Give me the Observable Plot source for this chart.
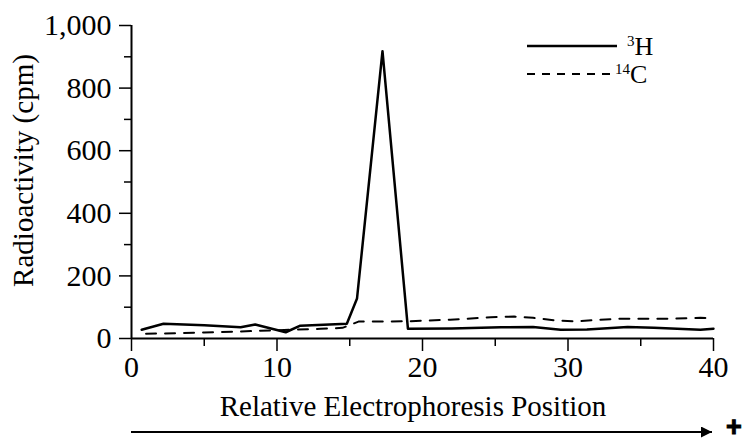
<!DOCTYPE html>
<html><head><meta charset="utf-8">
<script src="https://cdn.jsdelivr.net/npm/d3@7"></script>
<script src="https://cdn.jsdelivr.net/npm/@observablehq/plot@0.6"></script>
<style>body{margin:0;background:#fff}</style>
</head><body><div id="chart"></div>
<script>
// 3H series
const h3X = [0.7, 2.2, 5.0, 7.5, 8.5, 10.6, 11.6, 14.8, 15.5, 17.25, 19.0, 22.0, 25.4, 27.6, 29.5, 31.3, 34.1, 35.9, 39.1, 40];
const h3Y = [28, 47, 42, 36, 45, 20, 41, 47, 128, 918, 31, 32, 36, 37, 28, 29, 37, 34, 28, 31];
// 14C series
const c14X = [1.0, 5.0, 8.5, 11.0, 13.0, 14.5, 15.6, 18.9, 21.9, 24.7, 26.3, 27.6, 29.3, 30.6, 32.2, 33.6, 36.8, 39.1, 40];
const c14Y = [15, 19, 24, 28, 31, 34, 54, 55, 60, 68, 70, 66, 57, 55, 60, 63, 63, 66, 65];

const yTicks = [0, 200, 400, 600, 800, 1000];
const yMinor = [100, 300, 500, 700, 900];
const xTicks = [0, 10, 20, 30, 40];
const xMinor = [5, 15, 25, 35];
const xLabel = "Relative Electrophoresis Position";
const yLabel = "Radioactivity (cpm)";
const legendIso = ["3", "14"];
const legendEl = ["H", "C"];
const legendDash = [null, "8,7"];

const h3 = h3X.map((x, i) => ({x, y: h3Y[i]}));
const c14 = c14X.map((x, i) => ({x, y: c14Y[i]}));

const font = "'Liberation Serif', 'Times New Roman', serif";

const plot = Plot.plot({
  width: 747, height: 443,
  marginLeft: 131, marginRight: 34, marginTop: 25, marginBottom: 105,
  x: {domain: [0, 40]},
  y: {domain: [0, 1000]},
  style: {fontFamily: font, fontSize: "30px", color: "#000", background: "#fff", overflow: "visible"},
  marks: [
    Plot.axisY({ticks: yTicks, tickSize: 12, tickPadding: 8, tickFormat: d3.format(","), label: null, strokeWidth: 1.5}),
    Plot.axisY({ticks: yMinor, tickSize: 7, tickFormat: () => "", label: null, strokeWidth: 1.5}),
    Plot.axisX({ticks: xTicks, tickSize: 13, tickPadding: 4, label: null, strokeWidth: 1.5}),
    Plot.axisX({ticks: xMinor, tickSize: 8, tickFormat: () => "", label: null, strokeWidth: 1.5}),
    Plot.ruleX([0], {strokeWidth: 2}),
    Plot.ruleY([0], {strokeWidth: 2}),
    Plot.line(c14, {x: "x", y: "y", stroke: "#000", strokeWidth: 2, strokeDasharray: "10,9"}),
    Plot.line(h3, {x: "x", y: "y", stroke: "#000", strokeWidth: 2.5})
  ]
});
document.getElementById("chart").appendChild(plot);

const sx = plot.scale("x"), sy = plot.scale("y");
const svg = d3.select(plot);

// y label
svg.append("text")
  .attr("transform", `translate(33,${(sy.apply(0) + sy.apply(1000)) / 2 - 11}) rotate(-90)`)
  .attr("text-anchor", "middle")
  .attr("font-family", font).attr("font-size", 29).attr("fill", "#000")
  .text(yLabel);

// x label
svg.append("text")
  .attr("x", (sx.apply(0) + sx.apply(40)) / 2 - 9)
  .attr("y", 416)
  .attr("text-anchor", "middle")
  .attr("font-family", font).attr("font-size", 29).attr("fill", "#000")
  .text(xLabel);

// direction arrow
svg.append("defs").append("marker")
  .attr("id", "ah").attr("viewBox", "0 0 10 10").attr("refX", 10).attr("refY", 5)
  .attr("markerUnits", "userSpaceOnUse").attr("markerWidth", 16).attr("markerHeight", 11)
  .attr("orient", "auto")
  .append("path").attr("d", "M0,0L10,5L0,10Z").attr("fill", "#000");
svg.append("line")
  .attr("x1", sx.apply(0)).attr("x2", sx.apply(40) - 1)
  .attr("y1", 432).attr("y2", 432)
  .attr("stroke", "#000").attr("stroke-width", 2)
  .attr("marker-end", "url(#ah)");
svg.append("text")
  .attr("x", 726).attr("y", 427)
  .attr("text-anchor", "start")
  .attr("dominant-baseline", "central")
  .attr("font-family", "'Liberation Sans', Arial, sans-serif").attr("font-weight", "bold")
  .attr("font-size", 27).attr("fill", "#000")
  .attr("stroke", "#000").attr("stroke-width", 1)
  .text("+");

// legend
const lg = svg.append("g").attr("text-anchor", "start");
legendEl.forEach((el, i) => {
  const yy = 46 + i * 28;
  lg.append("line")
    .attr("x1", 527).attr("x2", i === 0 ? 617 : 612)
    .attr("y1", yy).attr("y2", yy)
    .attr("stroke", "#000").attr("stroke-width", i === 0 ? 2.5 : 2)
    .attr("stroke-dasharray", legendDash[i]);
  const t = lg.append("text")
    .attr("x", i === 0 ? 627 : 615).attr("y", yy + 9)
    .attr("text-anchor", "start")
    .attr("font-family", font).attr("font-size", 26).attr("fill", "#000");
  t.append("tspan").attr("font-size", 15).attr("dy", -9).text(legendIso[i]);
  t.append("tspan").attr("dy", 9).text(el);
});
</script>
</body></html>
